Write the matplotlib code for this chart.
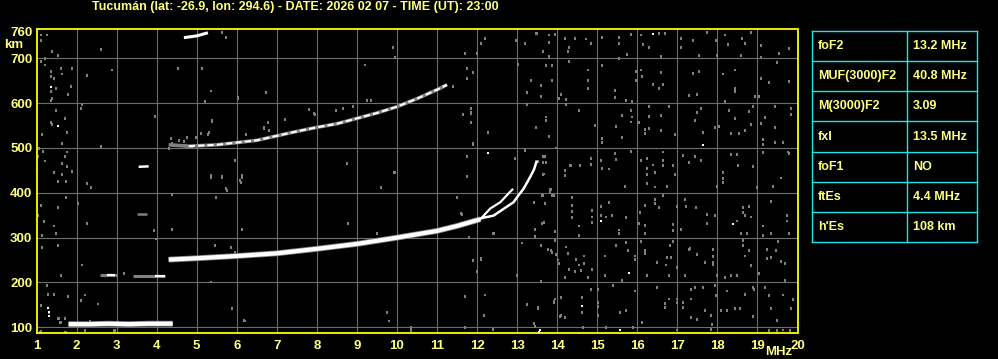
import matplotlib.pyplot as plt

# ── colores ─────────────────────────────────────────────
BG = "black"
YEL = "#ffff00"
TXT = "#ffff80"
GRID = "#6e6e6e"
NOISE = "#808080"
CYAN = "#1ee6e6"

title = "Tucumán (lat: -26.9, lon: 294.6) - DATE: 2026 02 07 - TIME (UT): 23:00"

x_ticks = list(range(1, 21))
y_ticks = [100, 200, 300, 400, 500, 600, 700, 760]
y_grid = [100, 200, 300, 400, 500, 600, 700]

# ── trazas del ionograma (MHz, km) ─────────────────────
es_f = [1.8, 2.3, 2.8, 3.3, 3.8, 4.4]
es_h = [107, 107, 108, 107, 108, 108]

es2_f1 = [2.58, 3.02]
es2_h1 = [216, 216]
es2_f2 = [3.4, 4.22]
es2_h2 = [215, 215]

f_main = [4.3, 5.0, 6.0, 7.0, 8.0, 9.0, 10.0, 11.0, 11.5, 12.08]
h_main = [251, 254, 259, 265, 275, 286, 300, 315, 326, 341]

o_f = [12.08, 12.33, 12.58, 12.78, 12.9]
o_h = [341, 365, 379, 398, 409]

x_f = [12.08, 12.41, 12.66, 12.91, 13.03, 13.16, 13.28, 13.37, 13.43, 13.49]
x_h = [343, 349, 364, 379, 394, 409, 428, 443, 454, 472]

f2_f = [4.3, 4.8, 5.5, 6.0, 6.5, 7.0, 7.5, 8.0, 8.5, 9.0, 9.5, 10.0, 10.5, 11.0, 11.25]
f2_h = [507, 504, 507, 512, 517, 527, 537, 546, 554, 566, 578, 592, 610, 630, 641]

top_f = [4.68, 5.0, 5.28]
top_h = [746, 750, 757]

seg1_f = [3.55, 3.8]
seg1_h = [458, 459]
seg2_f = [3.52, 3.75]
seg2_h = [352, 352]

# ── puntos de ruido (MHz, km) ──────────────────────────
noise_f = [
    13.48, 13.79, 13.79, 13.95, 14.19, 14.44, 14.73, 14.84, 14.29, 14.26, 13.79, 13.65,
    15.13, 15.54, 15.54, 15.84, 15.75, 15.54, 16.09, 16.54, 16.69, 16.15, 16.29, 16.59,
    17.09, 17.4, 17.09, 17.73, 17.55, 17.96, 18.0, 18.2, 18.27, 18.62, 18.7, 18.85,
    18.6, 19.1, 19.1, 19.55, 19.8,
    13.73, 13.88, 14.29, 14.78, 14.78, 14.78, 15.13, 15.44, 15.44, 15.72, 15.98, 15.98,
    16.09, 16.13, 16.4, 16.54, 16.58, 16.65, 15.88, 17.4, 17.55, 17.28, 17.48, 18.13,
    18.44, 18.44, 18.44, 18.19, 19.08, 19.28, 19.48, 19.78, 18.93, 19.05, 13.59, 13.59,
    13.34, 13.88, 14.04, 14.23, 14.09,
    13.73, 13.73, 13.48, 13.79, 14.54, 14.23, 14.94, 15.13, 15.13, 15.48, 15.63, 15.63,
    15.84, 15.84, 15.88, 16.04, 16.29, 16.29, 16.59, 16.19, 16.19, 16.29, 16.59, 16.94,
    16.79, 17.59, 17.48, 17.44, 17.63, 17.94, 18.04, 18.3, 18.44, 18.34, 18.54, 18.8,
    18.69, 18.83, 18.88, 19.09, 19.19, 19.44, 19.44, 19.84, 19.84, 19.13, 19.44, 19.63,
    19.13,
    13.64, 13.64, 13.64, 14.33, 14.58, 14.84, 14.84, 14.19, 15.44, 15.48, 15.13, 15.29,
    15.84, 16.09, 16.23, 16.23, 16.23, 16.4, 16.44, 16.63, 16.63, 16.63, 16.9, 16.94,
    17.13, 17.3, 17.44, 17.58, 18.15, 18.13, 18.35, 18.48, 18.52, 18.88, 19.13, 19.76,
    19.8, 19.6, 15.09,
    13.83, 13.83, 13.63, 13.88, 13.69, 14.38, 14.36, 14.38, 14.36, 13.63, 13.44, 13.44,
    13.94, 14.54, 14.54, 14.88, 14.88, 14.88, 15.09, 15.09, 15.29, 15.23, 15.38, 15.54,
    15.54, 15.73, 15.69, 16.23, 16.44, 16.73, 16.43, 16.43, 16.19, 16.54, 16.08, 16.04,
    16.19, 16.19, 16.88, 16.88, 16.63, 16.98, 17.18, 17.21, 17.46, 17.09, 17.73, 17.94,
    17.73, 17.98, 18.13, 18.48, 18.63, 18.63, 18.79, 18.69, 18.83, 18.73, 18.6, 18.98,
    19.33, 19.38, 19.73, 19.73, 19.79, 19.13, 19.13, 19.33,
    13.59, 13.78, 13.86, 13.97, 14.23, 14.28, 14.05, 14.48, 14.55, 14.68, 14.68, 14.3,
    14.44, 14.59, 14.88, 14.76, 14.19, 15.19, 15.19, 15.48, 15.73, 15.77, 15.94, 15.94,
    15.63, 16.09, 16.19, 16.19, 16.48, 16.71, 16.73, 16.84, 16.82, 16.88, 16.23, 16.79,
    16.98, 17.18, 17.3, 17.32, 17.48, 17.69, 17.89, 17.89, 17.89, 17.89, 17.98, 18.19,
    18.34, 18.48, 18.63, 18.65, 18.78, 18.69, 18.83, 19.04, 19.23, 19.23, 19.33, 19.46,
    19.52, 19.58, 19.69, 19.69,
    13.53, 13.93, 13.95, 14.09, 14.08, 14.19, 13.44, 14.63, 14.63, 14.65, 14.84, 15.03,
    15.03, 15.03, 15.03, 15.23, 15.4, 15.58, 15.73, 15.9, 15.94, 16.13, 16.48, 16.69,
    16.69, 16.78, 16.98, 16.98, 16.98, 17.13, 17.13, 17.33, 17.34, 17.34, 17.48, 17.44,
    17.63, 17.69, 17.83, 17.86, 17.83, 17.94, 17.97, 18.08, 18.23, 18.23, 18.44, 18.57,
    18.69, 18.88, 18.92, 18.88, 19.19, 19.29, 19.33, 19.48, 19.65, 19.84, 19.9, 19.28,
    19.48, 19.65, 19.82,
    1.1, 1.25, 1.1, 1.39, 1.54, 1.2, 1.1, 1.2, 1.6, 1.35, 1.64, 1.89, 2.25, 1.35, 1.43,
    1.85, 1.35, 1.49, 1.79, 1.39, 1.35, 2.6, 2.89, 2.14, 2.1, 1.48, 1.7, 1.35, 1.39,
    1.14, 1.75, 1.64, 3.95, 2.6, 1.06, 1.04, 1.16, 1.75, 1.7, 1.2, 1.64, 1.75, 1.02,
    1.43, 1.64, 1.89, 4.54, 5.14, 5.35, 5.2, 6.04, 6.74, 5.63, 5.74, 5.39, 6.79, 6.69,
    6.24, 7.21, 5.96, 5.36, 5.64, 6.14,
    1.54, 1.74, 2.25, 2.35, 1.74, 2.04, 1.1, 1.54, 1.04, 1.18, 1.43, 2.25, 1.49, 1.14,
    1.14, 1.54, 2.14, 1.6, 3.18, 3.93, 4.39, 4.39, 3.98, 5.35, 5.64, 6.1, 5.75, 5.49,
    6.14, 5.45, 5.85, 5.95, 5.35, 5.89, 6.19, 1.02, 1.02, 1.25, 1.29, 1.43, 1.79, 2.1,
    2.2, 2.54, 1.54, 1.6, 1.71, 1.1, 1.73, 2.93, 1.1,
    12.2, 12.09, 12.98, 13.2, 13.49, 9.89, 9.95, 11.7, 11.99, 13.03, 9.2, 11.74, 11.89,
    11.74, 13.34, 13.24, 13.24, 7.8, 7.95, 8.49, 8.64, 8.89, 9.24, 9.34, 9.99, 7.2,
    11.84, 11.84, 11.64, 11.84, 11.39,
    8.74, 9.93, 9.6, 8.78, 9.49, 11.49, 11.62, 11.74, 11.85, 11.85, 12.28, 11.89, 11.74,
    12.08, 11.89, 12.1, 12.0, 12.39, 11.81, 6.14, 6.14, 6.08, 5.49, 5.74, 5.95, 4.39,
    4.39, 3.95, 5.39, 5.35, 5.2, 6.03, 6.74, 7.8, 7.2, 7.93, 8.49, 8.64, 9.24, 9.34,
    9.99, 6.81, 6.68, 6.24,
    11.89, 11.74, 11.74, 9.95, 12.95, 13.2, 13.51, 13.7, 13.73, 13.68, 13.98, 14.2,
    14.34, 13.85, 13.64, 13.91, 13.43, 13.66, 13.45, 13.95, 13.84, 14.01, 13.12, 12.99,
    13.6, 12.1, 11.91, 12.41, 11.49, 11.6, 9.74, 9.81, 11.7, 12.2, 12.18, 13.24, 13.53,
    13.93, 14.09, 13.43, 10.34, 11.7, 12.39,
    1.3, 1.56, 1.7, 1.59, 1.09, 1.7, 2.2, 2.34, 2.95, 6.2, 9.74, 9.8, 10.34,
    4.35, 4.39, 4.56, 4.68, 4.76, 4.98, 4.73, 4.89, 5.27, 5.3, 5.1, 4.31,
]
noise_h = [
    757, 753, 737, 754, 745, 745, 744, 734, 725, 716, 706, 716,
    748, 734, 748, 754, 710, 701, 753, 757, 757, 731, 725, 706,
    745, 740, 725, 759, 708, 740, 708, 753, 731, 745, 734, 758,
    708, 729, 704, 712, 723,
    684, 684, 693, 675, 652, 634, 684, 630, 613, 607, 672, 652,
    675, 660, 643, 634, 669, 643, 604, 667, 671, 619, 620, 666,
    675, 634, 626, 604, 655, 647, 691, 649, 616, 616, 641, 616,
    651, 652, 611, 609, 621,
    570, 563, 546, 527, 585, 598, 552, 522, 513, 549, 574, 525,
    585, 559, 570, 557, 594, 572, 573, 542, 533, 544, 540, 531,
    594, 589, 581, 563, 535, 546, 549, 585, 566, 533, 533, 583,
    540, 553, 594, 555, 568, 546, 594, 589, 576, 520, 514, 514,
    508,
    481, 469, 442, 462, 462, 477, 464, 451, 488, 475, 456, 454,
    493, 473, 477, 456, 442, 463, 447, 492, 473, 462, 462, 442,
    484, 469, 482, 473, 447, 432, 486, 486, 462, 460, 490, 492,
    488, 434, 473,
    409, 404, 394, 394, 377, 390, 373, 359, 346, 332, 320, 303,
    314, 327, 306, 361, 347, 335, 370, 351, 379, 347, 351, 318,
    310, 346, 416, 422, 414, 416, 387, 377, 372, 368, 358, 332,
    329, 310, 331, 316, 394, 370, 387, 370, 368, 320, 353, 351,
    332, 416, 424, 338, 368, 358, 370, 350, 347, 310, 310, 413,
    381, 416, 350, 338, 310, 327, 306, 310,
    284, 274, 268, 263, 280, 266, 243, 252, 240, 260, 243, 229,
    225, 227, 229, 212, 212, 260, 216, 283, 290, 273, 260, 252,
    205, 292, 273, 266, 246, 240, 257, 257, 283, 292, 216, 216,
    234, 216, 275, 277, 263, 246, 275, 258, 246, 240, 216, 212,
    216, 216, 283, 295, 273, 260, 238, 221, 275, 255, 257, 273,
    292, 248, 244, 205,
    142, 157, 164, 168, 125, 122, 103, 168, 134, 101, 186, 186,
    157, 147, 127, 101, 194, 133, 139, 101, 182, 112, 190, 154,
    145, 164, 164, 157, 95, 157, 145, 186, 164, 122, 119, 190,
    190, 138, 127, 108, 97, 194, 172, 138, 182, 138, 143, 143,
    175, 190, 186, 125, 190, 172, 143, 116, 173, 142, 162, 93,
    93, 95, 93,
    753, 753, 740, 717, 708, 701, 693, 686, 678, 671, 666, 678, 663, 660, 656,
    639, 626, 634, 620, 611, 607, 721, 675, 598, 589, 585, 566, 557, 553,
    531, 535, 511, 572, 505, 499, 482, 493, 492, 482, 472, 466, 460, 452,
    446, 442, 449, 678, 678, 628, 605, 611, 625, 759, 748, 563, 558, 546,
    531, 565, 473, 440, 437, 439,
    427, 427, 422, 413, 390, 377, 372, 368, 350, 337, 327, 332, 310, 305,
    279, 283, 240, 217, 221, 316, 396, 320, 298, 436, 435, 424, 407, 390,
    320, 283, 279, 269, 202, 143, 116, 201, 179, 194, 175, 175, 170, 160,
    173, 153, 121, 112, 121, 91, 90, 93, 149,
    745, 734, 740, 734, 757, 725, 703, 712, 712, 688, 686, 678, 669,
    656, 651, 625, 598, 587, 575, 585, 589, 594, 607, 607, 594, 565,
    589, 578, 575, 558, 639,
    466, 446, 413, 333, 311, 391, 353, 481, 580, 558, 536, 510, 437,
    342, 251, 253, 225, 310, 301, 320, 435, 428, 391, 410, 472, 398,
    318, 570, 561, 628, 605, 613, 625, 588, 565, 577, 584, 590, 607, 607,
    594, 540, 544, 532,
    508, 482, 437, 446, 478, 495, 470, 481, 469, 443, 501, 439,
    461, 409, 394, 394, 380, 335, 320, 294, 272, 251, 289, 217,
    204, 254, 249, 311, 391, 354, 134, 115, 169, 173, 128, 152, 146,
    159, 128, 110, 100, 101, 96,
    134, 121, 121, 112, 89, 89, 93, 115, 94, 115, 134, 115, 93,
    522, 510, 518, 516, 525, 525, 507, 503, 531, 535, 533, 499,
]

white_f = [1.3, 1.3, 1.29, 1.54, 1.35, 16.38, 17.63, 15.09, 15.79, 14.63, 13.54, 15.58,
           18.4, 12.28, 13.56]
white_h = [126, 134, 142, 549, 635, 754, 507, 337, 221, 148, 90, 93,
           331, 489, 93]

# ── tabla de parámetros ────────────────────────────────
param_names = ["foF2", "MUF(3000)F2", "M(3000)F2", "fxI", "foF1", "ftEs", "h'Es"]
param_values = ["13.2 MHz", "40.8 MHz", "3.09", "13.5 MHz", "NO", "4.4 MHz", "108 km"]

W, H = 998, 359
fig = plt.figure(figsize=(W / 100, H / 100), dpi=100, facecolor=BG)
ax = fig.add_axes([36.5 / W, 25.7 / H, 761 / W, 304 / H], facecolor=BG)
ax.set_xlim(1, 20)
ax.set_ylim(86.6, 764.7)

for xv in x_ticks[1:-1]:
    ax.axvline(xv, color=GRID, lw=0.8, zorder=1)
for yv in y_grid:
    ax.axhline(yv, color=GRID, lw=0.8, zorder=1)

# ruido: puntos verticales de 2x3 px aprox.
ax.scatter(noise_f, noise_h, marker="s", s=4.0, color=NOISE, linewidths=0, zorder=2)
ax.scatter(noise_f, [h - 2 for h in noise_h], marker="s", s=4.0, color=NOISE,
           linewidths=0, zorder=2)
ax.scatter(white_f, white_h, marker="s", s=4.5, color="white", linewidths=0, zorder=3)

# Es
ax.plot(es_f, es_h, color=NOISE, lw=4.2, solid_capstyle="butt", zorder=3)
ax.plot(es_f, es_h, color="white", lw=3.0, solid_capstyle="butt", zorder=4)
ax.plot(es2_f1, es2_h1, color=NOISE, lw=2.2, solid_capstyle="butt", zorder=3)
ax.plot(es2_f2, es2_h2, color=NOISE, lw=2.2, solid_capstyle="butt", zorder=3)
ax.plot([3.95, 4.2], [215, 215], color="white", lw=1.6, solid_capstyle="butt", zorder=4)
ax.plot([2.75, 2.95], [216, 216], color="white", lw=1.6, solid_capstyle="butt", zorder=4)

# F
ax.plot(f_main, h_main, color=NOISE, lw=4.2, solid_capstyle="butt", zorder=3)
ax.plot(f_main, h_main, color="white", lw=3.0, solid_capstyle="butt", zorder=4)
ax.plot(o_f, o_h, color="white", lw=1.6, solid_capstyle="butt", zorder=4)
ax.plot(x_f, x_h, color="white", lw=1.8, solid_capstyle="butt", zorder=4)

# 2F
ax.plot(f2_f, f2_h, color=NOISE, lw=2.6, solid_capstyle="butt", zorder=3)
ax.plot(f2_f[1:], f2_h[1:], color="white", lw=1.5, solid_capstyle="butt",
        dashes=(3, 1.5), zorder=4)

ax.plot(top_f, top_h, color="white", lw=2.2, solid_capstyle="butt", zorder=4)
ax.plot(seg1_f, seg1_h, color="white", lw=1.8, solid_capstyle="butt", zorder=4)
ax.plot(seg2_f, seg2_h, color=NOISE, lw=1.8, solid_capstyle="butt", zorder=4)

for s in ax.spines.values():
    s.set_color(YEL)
    s.set_linewidth(1.3)

ax.set_xticks(x_ticks)
ax.set_yticks(y_ticks)
ax.tick_params(length=0, labelcolor=TXT, labelsize=9.5, pad=3)
ax.tick_params(axis="x", pad=5)
for lbl in ax.get_xticklabels() + ax.get_yticklabels():
    lbl.set_fontweight("bold")
    lbl.set_family("Liberation Sans")

fnt = dict(color=TXT, fontweight="bold", family="Liberation Sans")
fig.text(295 / W, 1 - 7 / H, title, ha="center", va="center", fontsize=9, **fnt)
fig.text(14 / W, 1 - 45 / H, "km", ha="center", va="center", fontsize=9.5, **fnt)
fig.text(779 / W, 1 - 352 / H, "MHz", ha="center", va="center", fontsize=9.5, **fnt)

# tabla
tx0, tx1, tmid = 812, 977, 907
ty0, ty1 = 31, 242
rh = (ty1 - ty0) / len(param_names)
for i in range(len(param_names) + 1):
    y = 1 - (ty0 + i * rh) / H
    fig.add_artist(plt.Line2D([tx0 / W, tx1 / W], [y, y], color=CYAN, lw=1.0))
for xv in (tx0, tmid, tx1):
    fig.add_artist(plt.Line2D([xv / W, xv / W], [1 - ty0 / H, 1 - ty1 / H], color=CYAN, lw=1.0))
for i, (nm, val) in enumerate(zip(param_names, param_values)):
    yc = 1 - (ty0 + (i + 0.5) * rh) / H
    fig.text((tx0 + 6) / W, yc, nm, ha="left", va="center", fontsize=9, **fnt)
    fig.text((tmid + 6) / W, yc, val, ha="left", va="center", fontsize=9, **fnt)

fig.savefig("out.png", dpi=100, facecolor=BG)
